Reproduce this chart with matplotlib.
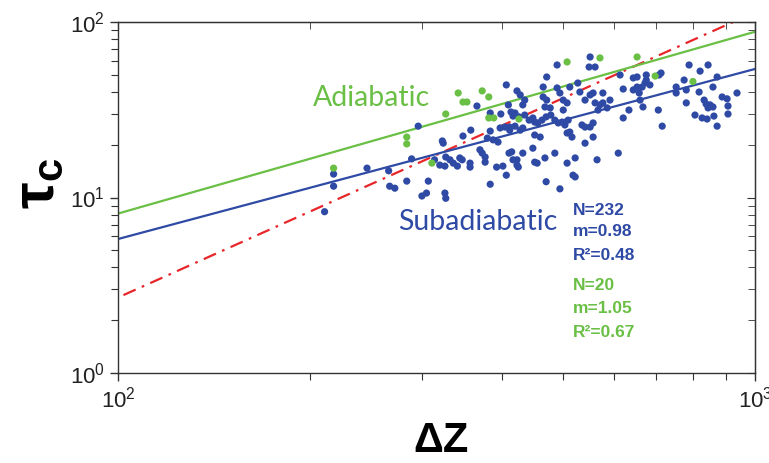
import matplotlib
matplotlib.use('Agg')
import matplotlib.pyplot as plt
from matplotlib.ticker import NullFormatter
import numpy as np

plt.rcParams['font.family'] = ['Liberation Sans', 'DejaVu Sans']
plt.rcParams['mathtext.fontset'] = 'custom'
plt.rcParams['mathtext.bf'] = 'Liberation Sans:bold'
plt.rcParams['mathtext.rm'] = 'Liberation Sans'

# subadiabatic cases (blue)
sub_x = [218, 218, 211, 246, 266, 267, 272, 284, 296, 289, 300, 305, 307,
         314, 320, 326, 323, 324, 327, 332, 336, 341, 344, 347, 348, 358, 357, 357,
         366, 370, 373, 377, 377, 380, 384, 384, 384, 388, 395, 393, 402, 398, 405,
         399, 407, 407, 410, 411, 412, 417, 423, 423, 326, 327,
         414, 420, 489, 551, 549, 561, 471, 465, 489, 512, 527, 428, 435, 432,
         465, 471, 468, 477, 494, 500, 507, 500, 531, 541, 551, 557, 561, 571,
         577, 586, 567, 417, 426, 435, 442, 448, 451, 456, 463, 470, 478, 485,
         491, 498, 503, 509, 412, 420, 428, 432, 451, 460, 535, 541, 507, 512,
         516, 551, 557, 541, 557, 448, 432, 415, 423, 425, 451, 455, 468, 485,
         507, 522, 518, 522, 565, 470, 494,
         577, 592, 610, 614, 621, 621, 634, 644, 653, 644, 653, 658, 660, 667,
         665, 672, 675, 675, 684, 707, 712, 705, 715, 752, 752, 774, 780, 780,
         788, 805, 820, 817, 826, 832, 838, 844, 850, 859, 862, 872, 844, 859,
         872, 841, 888, 904, 907, 907, 937]
sub_y = [13.6, 11.6, 8.3, 14.7, 14.2, 11.6, 11.3, 12.4, 25.5, 16.6, 10.2, 10.6, 12.4,
         16.4, 15.3, 15.1, 21.0, 20.4, 17.0, 16.4, 15.7, 15.1, 16.8, 16.4, 22.4, 24.2, 15.7, 14.9,
         33.2, 18.7, 17.9, 17.0, 15.9, 21.8, 30.3, 23.9, 11.9, 21.3, 20.7, 14.9, 15.1, 24.9, 25.2,
         29.9, 43.8, 13.4, 33.7, 17.9, 24.2, 16.4, 15.3, 40.5, 10.6, 9.9,
         30.7, 30.3, 56.9, 63.2, 55.4, 55.4, 48.6, 42.6, 42.1, 42.6, 44.9, 38.4, 35.9, 33.7,
         37.4, 35.9, 32.8, 32.4, 39.4, 35.9, 34.6, 31.5, 39.9, 35.9, 38.4, 39.4, 34.6, 33.7,
         34.6, 32.4, 31.5, 29.1, 28.8, 29.5, 27.6, 28.4, 26.9, 26.6, 27.6, 28.8, 29.5, 27.6,
         26.6, 26.9, 25.9, 27.6, 25.2, 25.5, 24.2, 24.9, 22.7, 22.1, 25.9, 25.2, 23.3, 23.6,
         22.1, 25.2, 26.6, 20.4, 22.1, 19.1, 17.9, 18.2, 16.4, 14.9, 15.9, 15.7, 16.8, 17.9,
         15.7, 16.8, 13.4, 13.1, 16.4, 12.3, 11.2,
         39.4, 35.9, 17.9, 49.9, 41.5, 28.4, 31.5, 48.0, 48.6, 41.0, 42.6, 39.4, 35.9, 32.8,
         42.6, 44.9, 49.9, 46.7, 43.8, 49.9, 51.2, 31.5, 25.5, 42.6, 39.4, 46.7, 41.0, 34.6,
         56.9, 29.5, 52.5, 39.9, 28.4, 35.9, 34.1, 32.4, 33.7, 32.8, 29.1, 25.5, 56.9, 42.6,
         48.6, 28.0, 37.4, 36.5, 33.2, 29.9, 39.4]

# adiabatic cases (green)
adi_x = [218, 284, 284, 327, 342, 348, 353, 373, 382, 382, 389, 426, 311,
         507, 571, 653, 697, 799]
adi_y = [14.7, 22.1, 20.2, 29.9, 39.4, 35.0, 35.0, 40.5, 37.4, 28.4, 28.4, 28.0, 15.7,
         59.2, 62.4, 63.2, 49.2, 45.8]

# fitted lines (end points)
sub_fit_x = [100, 1000]
sub_fit_y = [5.8, 54]
adi_fit_x = [100, 1000]
adi_fit_y = [8.1, 88]
ref_fit_x = [102, 924]
ref_fit_y = [2.78, 100]

blue = '#2f4aa5'
green = '#6abf45'
red = '#e8262a'

fig = plt.figure(figsize=(7.69, 4.63), dpi=100)
ax = fig.add_axes([118/769, 1-373/463, 637/769, 351/463])

ax.plot(ref_fit_x, ref_fit_y, color=red, lw=1.6, ls=(0, (6, 3, 1.2, 3)), zorder=2)
ax.plot(adi_fit_x, adi_fit_y, color=green, lw=1.6, zorder=2)
ax.plot(sub_fit_x, sub_fit_y, color=blue, lw=1.6, zorder=2)
ax.scatter(sub_x, sub_y, s=27, color=blue, edgecolors='none', zorder=3)
ax.scatter(adi_x, adi_y, s=27, color=green, edgecolors='none', zorder=4)

ax.set_xscale('log')
ax.set_yscale('log')
ax.set_xlim(100, 1000)
ax.set_ylim(1, 100)
ax.xaxis.set_minor_formatter(NullFormatter())
ax.yaxis.set_minor_formatter(NullFormatter())

for sp in ax.spines.values():
    sp.set_color('#333333')
    sp.set_linewidth(1.0)

ax.tick_params(which='both', direction='out', colors='#333333', labelsize=16,
               labelcolor='#222222', top=False, right=False)
ax.tick_params(which='major', length=6, width=1)
ax.tick_params(which='minor', length=5, width=0.8)

secy = ax.secondary_yaxis('right')
secy.tick_params(which='both', direction='in', colors='#333333', labelright=False)
secy.tick_params(which='major', length=6)
secy.tick_params(which='minor', length=5)
secy.yaxis.set_major_formatter(NullFormatter())
secy.yaxis.set_minor_formatter(NullFormatter())
secy.spines['right'].set_color('#333333')

secx = ax.secondary_xaxis('top')
secx.tick_params(which='both', direction='in', colors='#333333', labeltop=False)
secx.tick_params(which='major', length=6)
secx.tick_params(which='minor', length=5)
secx.xaxis.set_major_formatter(NullFormatter())
secx.xaxis.set_minor_formatter(NullFormatter())

ax.text(0.306, 0.783, 'Adiabatic', transform=ax.transAxes, color=green,
        fontsize=20.5, family='Lato', va='center', ha='left')
ax.text(0.44, 0.43, 'Subadiabatic', transform=ax.transAxes, color=blue,
        fontsize=20.5, family='Lato', va='center', ha='left')

stats = [('N=232', 0.464, blue), ('m=0.98', 0.402, blue), ('R²=0.48', 0.336, blue),
         ('N=20', 0.248, green), ('m=1.05', 0.185, green), ('R²=0.67', 0.114, green)]
for s, yy, c in stats:
    ax.text(0.714, yy, s, transform=ax.transAxes, color=c, fontsize=12.5,
            fontweight='bold', va='center', ha='left')

fig.text(441/769, 1-441/463, 'ΔZ', fontsize=30, fontweight='bold',
         family=['Liberation Sans', 'DejaVu Sans'], ha='center', va='center')
fig.text(38/769, 1-183/463, r'$\mathbf{\tau_c}$', fontsize=43, rotation=90,
         ha='center', va='center')

fig.savefig('out.png', dpi=100)
